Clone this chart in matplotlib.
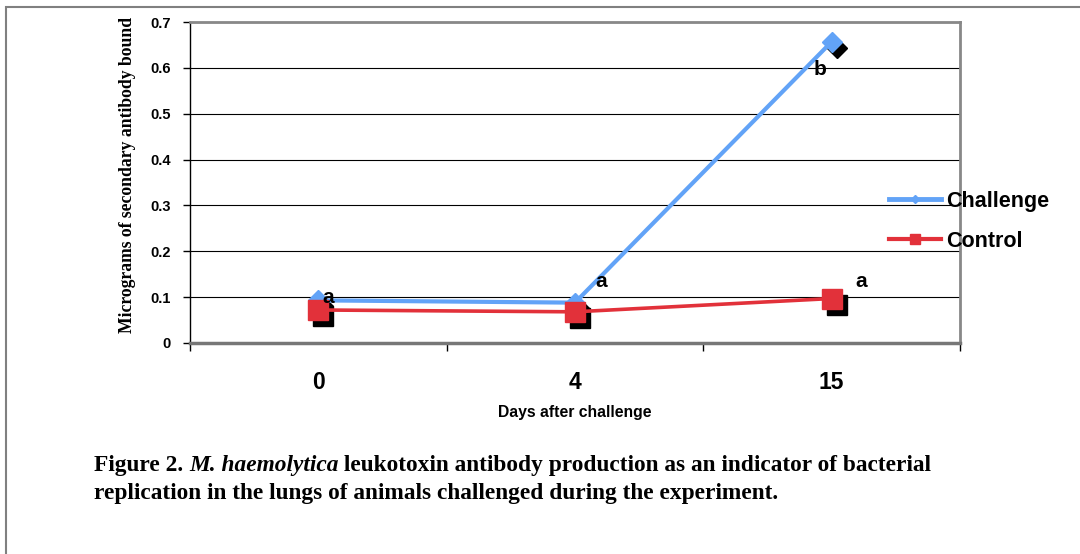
import matplotlib
matplotlib.use("Agg")
import matplotlib.pyplot as plt
from matplotlib.lines import Line2D
from matplotlib.patches import Rectangle
import matplotlib.transforms as mtransforms

days = ["0", "4", "15"]
challenge = [0.093, 0.088, 0.657]
control = [0.072, 0.068, 0.097]
challenge_letters = ["a", "a", "b"]
control_letters = ["", "", "a"]
yticks = [0, 0.1, 0.2, 0.3, 0.4, 0.5, 0.6, 0.7]

W, H = 1080, 554
fig = plt.figure(figsize=(W / 100, H / 100), dpi=100)

def px(x0, y0, x1, y1):
    return [x0 / W, 1 - y1 / H, (x1 - x0) / W, (y1 - y0) / H]

# outer frame
fig.patches.append(Rectangle((6 / W, -0.1), 1.2, 1 - 7 / H + 0.1, transform=fig.transFigure,
                             fill=False, edgecolor="#808080", linewidth=1.5))

ax = fig.add_axes(px(190, 22, 960, 343))
x = list(range(len(days)))
blue = "#62A3F7"
red = "#E2313A"

shadow = mtransforms.offset_copy(ax.transData, fig=fig, x=5, y=-6, units="dots")
ax.plot(x, challenge, linestyle="none", marker="D", markersize=10, color="black", transform=shadow, zorder=2)
ax.plot(x, control, linestyle="none", marker="s", markersize=14, color="black", transform=shadow, zorder=2)
ax.plot(x, challenge, color=blue, linewidth=3, marker="D", markersize=10, zorder=3, label="Challenge")
ax.plot(x, control, color=red, linewidth=2.6, marker="s", markersize=14, zorder=4, label="Control")

ax.set_xlim(-0.5, 2.5)
ax.set_ylim(0, 0.7)
ax.set_yticks(yticks)
ax.set_yticklabels(["0" if v == 0 else f"{v:.1f}" for v in yticks], fontsize=10.5, fontweight="bold",
                   fontfamily="Liberation Sans")
ax.yaxis.grid(True, color="black", linewidth=0.8)
ax.set_axisbelow(True)
ax.tick_params(axis="y", length=5, width=1, pad=9)

ax.set_xticks([-0.5, 0.5, 1.5, 2.5])
ax.set_xticklabels([])
ax.set_xticks(x, minor=True)
ax.set_xticklabels(days, minor=True, fontsize=16.5, fontweight="bold", fontfamily="Liberation Sans")
ax.tick_params(axis="x", which="major", length=6, width=1, direction="out")
ax.tick_params(axis="x", which="minor", length=0, pad=20)

for s in ["top", "right"]:
    ax.spines[s].set_color("#888888")
    ax.spines[s].set_linewidth(2)
ax.spines["bottom"].set_color("#777777")
ax.spines["bottom"].set_linewidth(2.5)
ax.spines["left"].set_color("black")
ax.spines["left"].set_linewidth(1)

ax.set_xlabel("Days after challenge", fontsize=11.3, fontweight="bold", fontfamily="Liberation Sans", labelpad=8)
fig.text(127 / W, 1 - 175 / H, "Micrograms of secondary antibody bound", rotation=90, ha="center", va="center",
         fontsize=12.7, fontweight="bold", fontfamily="Liberation Serif")

ch_off = [(10, 3), (26, 21), (-12, -28)]
for i, (lab, off) in enumerate(zip(challenge_letters, ch_off)):
    if lab:
        ax.annotate(lab, (x[i], challenge[i]), xytext=off, textcoords="offset pixels", ha="center", va="center",
                    fontsize=15, fontweight="bold", fontfamily="Liberation Sans", zorder=6)
ct_off = [(0, 0), (0, 0), (30, 17)]
for i, (lab, off) in enumerate(zip(control_letters, ct_off)):
    if lab:
        ax.annotate(lab, (x[i], control[i]), xytext=off, textcoords="offset pixels", ha="center", va="center",
                    fontsize=15, fontweight="bold", fontfamily="Liberation Sans", zorder=6)

handles = [Line2D([], [], color=blue, linewidth=3.5, marker="D", markersize=4),
           Line2D([], [], color=red, linewidth=3, marker="s", markersize=7.5)]
leg = fig.legend(handles, ["Challenge", "Control"], loc="upper left", bbox_to_anchor=(889 / W, 1 - 191 / H),
                 frameon=False, prop={"family": "Liberation Sans", "weight": "bold", "size": 15.5},
                 handlelength=2.4, handletextpad=0.25, labelspacing=0.88, borderaxespad=0, borderpad=0)

fig.canvas.draw()
r = fig.canvas.get_renderer()
parts = [("Figure 2. ", "normal"), ("M. haemolytica", "italic"),
         (" leukotoxin antibody production as an indicator of bacterial", "normal")]
xcur = 94
for txt, style in parts:
    t = fig.text(xcur / W, 1 - 466 / H, txt, fontsize=16.8, fontweight="bold", fontstyle=style,
                 fontfamily="Liberation Serif", va="center", ha="left")
    bb = t.get_window_extent(renderer=r)
    xcur += bb.width
fig.text(94 / W, 1 - 493 / H, "replication in the lungs of animals challenged during the experiment.",
         fontsize=16.8, fontweight="bold", fontfamily="Liberation Serif", va="center", ha="left")

fig.savefig("out.png", dpi=100)
